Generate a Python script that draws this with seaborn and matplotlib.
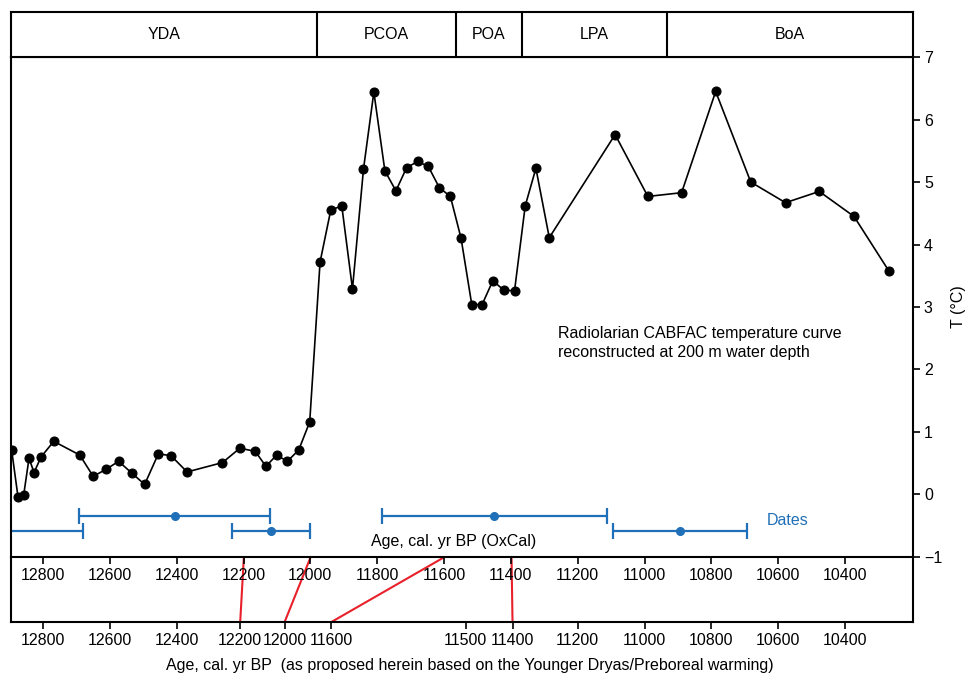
import numpy as np
import pandas as pd
import matplotlib
matplotlib.use("Agg")
import matplotlib.pyplot as plt
import seaborn as sns

### radiolarian CABFAC temperature (OxCal age, T in deg C)
age = [12894, 12875, 12858, 12842, 12827, 12806, 12768, 12690, 12650, 12612,
       12574, 12534, 12496, 12455, 12417, 12369, 12263, 12211, 12165, 12133,
       12101, 12069, 12035, 12002, 11971, 11939, 11906, 11874, 11841, 11810,
       11777, 11744, 11712, 11679, 11647, 11614, 11581, 11549, 11517, 11486,
       11454, 11421, 11389, 11357, 11325, 11285, 11088, 10990, 10889, 10787,
       10682, 10578, 10477, 10373, 10269]
temp = [0.71, -0.04, -0.01, 0.58, 0.35, 0.60, 0.85, 0.63, 0.29, 0.40,
        0.53, 0.34, 0.16, 0.65, 0.62, 0.36, 0.51, 0.74, 0.69, 0.45,
        0.63, 0.53, 0.71, 1.16, 3.72, 4.55, 4.62, 3.29, 5.21, 6.44,
        5.18, 4.86, 5.23, 5.33, 5.25, 4.91, 4.77, 4.10, 3.04, 3.04,
        3.42, 3.27, 3.26, 4.62, 5.22, 4.11, 5.76, 4.77, 4.83, 6.45,
        5.00, 4.67, 4.85, 4.45, 3.58]

### dates (mid, older bound, younger bound, row level)
date_mid = [12404, 13000, 12119, 11450, 10894]
date_old = [12693, 13300, 12234, 11785, 11093]
date_young = [12121, 12680, 12001, 11112, 10692]
date_row = [-0.35, -0.59, -0.59, -0.35, -0.59]

### pollen zones on top
zone_names = ['YDA', 'PCOA', 'POA', 'LPA', 'BoA']
zone_edges = [12897, 11981, 11565, 11366, 10932, 10197]

### upper (OxCal) ticks and lower (proposed) ticks
upper_ticks = [12800, 12600, 12400, 12200, 12000, 11800, 11600, 11400,
               11200, 11000, 10800, 10600, 10400]
lower_labels = ['12800', '12600', '12400', '12200', '12000', '11600', '11500',
                '11400', '11200', '11000', '10800', '10600', '10400']
lower_pos = [12800, 12600, 12400, 12210, 12077, 11937, 11535, 11395,
             11200, 11000, 10800, 10600, 10400]

### tie lines: OxCal age -> proposed age position
tie_upper = [12199, 11999, 11598, 11398]
tie_lower = [12210, 12077, 11937, 11395]

xlim = (12897, 10197)
blue = '#1f70b8'

sns.set_style("white")
plt.rcParams['font.family'] = ['Liberation Sans', 'DejaVu Sans']
plt.rcParams['font.size'] = 11.5
plt.rcParams['text.color'] = 'black'
plt.rcParams['xtick.color'] = 'black'
plt.rcParams['ytick.color'] = 'black'
plt.rcParams['axes.labelcolor'] = 'black'

fig = plt.figure(figsize=(9.68, 6.8), dpi=100)
L, W = 0.011, 0.932
ax2 = fig.add_axes([L, 0.0853, W, 0.0957])
ax = fig.add_axes([L, 0.181, W, 0.735])
ax3 = fig.add_axes([L, 0.916, W, 0.0665])
ax.patch.set_visible(False)
ax2.patch.set_visible(False)

df = pd.DataFrame({'age': age, 'temp': temp})
sns.lineplot(data=df, x='age', y='temp', ax=ax, color='black', marker='o',
             markersize=6.5, markeredgecolor='black', linewidth=1.2,
             sort=False, estimator=None)

# x is inverted, so the younger bound is the "minus" side
xerr = [np.array(date_mid) - np.array(date_young), np.array(date_old) - np.array(date_mid)]
ax.errorbar(date_mid, date_row, xerr=xerr, fmt='o', color=blue, ms=5.5,
            elinewidth=1.6, capsize=6, capthick=1.6)
ax.text(10571, -0.42, 'Dates', color=blue, ha='center', va='center')
ax.text(11570, -0.76, 'Age, cal. yr BP (OxCal)', ha='center', va='center')
ax.text(11260, 2.42, 'Radiolarian CABFAC temperature curve\nreconstructed at 200 m water depth',
        ha='left', va='center', linespacing=1.35)

ax.set_xlim(xlim)
ax.set_ylim(-1, 7)
ax.set_xlabel('')
ax.set_ylabel('T (°C)', labelpad=6)
ax.yaxis.tick_right()
ax.yaxis.set_label_position('right')
ax.set_yticks(range(-1, 8))
ax.set_xticks(upper_ticks)
ax.tick_params(axis='both', direction='out', length=5, width=1.2, pad=3,
               bottom=True, right=True, left=False)

ax2.set_xlim(xlim)
ax2.set_ylim(0, 1)
ax2.set_xticks(lower_pos, lower_labels)
ax2.set_yticks([])
ax2.tick_params(axis='x', direction='out', length=5, width=1.2, pad=3, bottom=True)
for u, lo in zip(tie_upper, tie_lower):
    ax2.plot([u, lo], [1, 0], color='#e8202a', lw=1.5, clip_on=False)
ax2.spines['top'].set_visible(False)

ax3.set_xlim(xlim)
ax3.set_ylim(0, 1)
ax3.set_xticks([])
ax3.set_yticks([])
for e in zone_edges[1:-1]:
    ax3.axvline(e, color='black', lw=1.5)
for i, name in enumerate(zone_names):
    ax3.text((zone_edges[i] + zone_edges[i + 1]) / 2, 0.5, name, ha='center', va='center')

for a in (ax, ax2, ax3):
    for s in a.spines.values():
        s.set_color('black')
        s.set_linewidth(1.5)

fig.text(0.4855, 0.021, 'Age, cal. yr BP  (as proposed herein based on the Younger Dryas/Preboreal warming)',
         ha='center', va='center')

fig.savefig('out.png', dpi=100)
